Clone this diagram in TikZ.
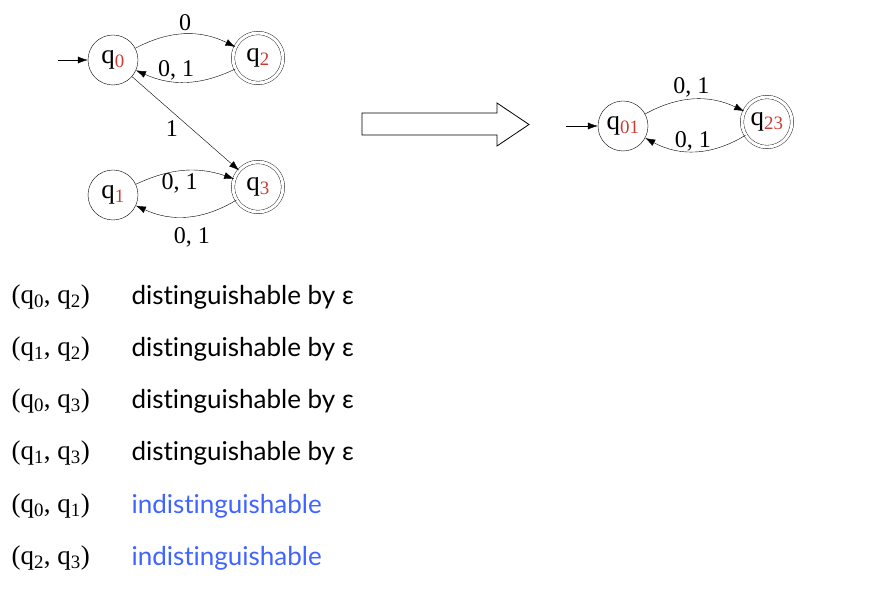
\documentclass[tikz,border=0pt]{standalone}
\usepackage{fontspec}
\setmainfont{Liberation Serif}
\newfontfamily\descfont[Ligatures=NoCommon]{Lato}
\usetikzlibrary{arrows.meta}
\definecolor{subred}{RGB}{200,60,50}
\definecolor{indblue}{RGB}{64,100,255}
\newcommand{\qs}[1]{q\textsubscript{\color{subred}#1}}
\newcommand{\qp}[1]{q\textsubscript{#1}}
\begin{document}
\begin{tikzpicture}[x=1pt, y=-1pt, >={Latex[length=10pt,width=7pt]}, font=\fontsize{22}{26}\selectfont,
state/.style={circle, draw, minimum size=50pt, inner sep=0pt, font=\fontsize{27}{30}\selectfont},
accept/.style={state, double, double distance=3pt},
edgelbl/.style={font=\fontsize{24}{26}\selectfont, inner sep=2pt},
pairtext/.style={anchor=west, font=\fontsize{27}{30}\selectfont},
desctext/.style={anchor=west, font=\descfont\fontsize{26}{30}\selectfont},]
 \useasboundingbox (0,0) rectangle (880,593);

 % left automaton
 \node[state] (q0) at (113,60) {\qs{0}};
 \node[accept] (q2) at (258,58) {\qs{2}};
 \node[state] (q1) at (113,195) {\qs{1}};
 \node[accept] (q3) at (258,187) {\qs{3}};
 \node[coordinate] (start0) at (58,60) {};

 \draw[->] (start0) -- (q0);
 \draw[->] (q0) to[bend left=27] node[edgelbl, above, inner sep=3pt] {0} (q2);
 \draw[->] (q2) to[bend left=25] node[edgelbl, above=1pt, pos=0.6, inner sep=0pt] {0, 1} (q0);
 \draw[->] (q0) -- node[edgelbl, below left, pos=0.45] {1} (q3);
 \draw[->] (q1) to[bend left=22] node[edgelbl, below, pos=0.45] {0, 1} (q3);
 \draw[->] (q3) to[bend left=28] node[edgelbl, below=9pt, pos=0.45] {0, 1} (q1);

 % big arrow
 \draw[line width=0.8pt] (362,113) -- (497,113) -- (497,103) -- (529,124.5) -- (497,146) -- (497,135) -- (362,135) -- cycle;

 % right automaton
 \node[state] (q01) at (623,126) {\qs{01}};
 \node[accept] (q23) at (767,122) {\qs{23}};
 \node[coordinate] (start01) at (566,126) {};

 \draw[->] (start01) -- (q01);
 \draw[->] (q01) to[bend left=27] node[edgelbl, above, pos=0.47] {0, 1} (q23);
 \draw[->] (q23) to[bend left=30] node[edgelbl, above, pos=0.53, inner sep=0pt] {0, 1} (q01);

 % pairs
 \node[pairtext] (pair1) at (8,297) {(\qp{0}, \qp{2})};
 \node[desctext] (desc1) at (128,297) {distinguishable by ε};
 \node[pairtext] (pair2) at (8,349) {(\qp{1}, \qp{2})};
 \node[desctext] (desc2) at (128,349) {distinguishable by ε};
 \node[pairtext] (pair3) at (8,401) {(\qp{0}, \qp{3})};
 \node[desctext] (desc3) at (128,401) {distinguishable by ε};
 \node[pairtext] (pair4) at (8,453) {(\qp{1}, \qp{3})};
 \node[desctext] (desc4) at (128,453) {distinguishable by ε};
 \node[pairtext] (pair5) at (8,506) {(\qp{0}, \qp{1})};
 \node[desctext, text=indblue] (desc5) at (128,506) {indistinguishable};
 \node[pairtext] (pair6) at (8,558) {(\qp{2}, \qp{3})};
 \node[desctext, text=indblue] (desc6) at (128,558) {indistinguishable};
\end{tikzpicture}
\end{document}
